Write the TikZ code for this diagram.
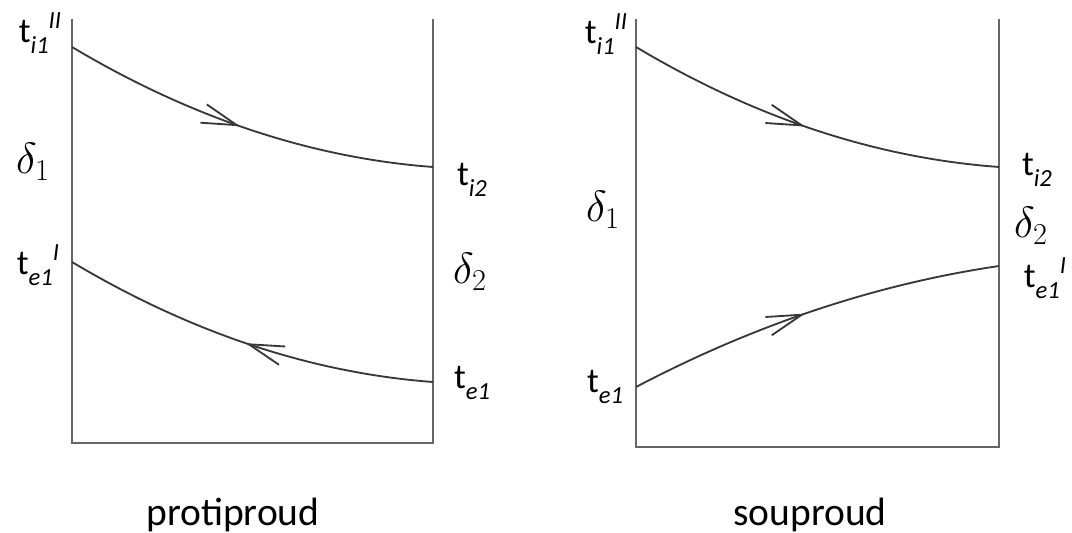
\documentclass[tikz,border=0pt]{standalone}
\usepackage{fontspec}
\setmainfont{Carlito}
\usetikzlibrary{arrows.meta,decorations.markings}

% temperature label: t with italic index and optional mark
\newcommand{\tlab}[2]{t\raisebox{-0.3em}{\fontsize{14}{14}\selectfont\itshape #1}\raisebox{0.42em}{\fontsize{14}{14}\selectfont\itshape #2}}

\begin{document}
\begin{tikzpicture}[
  x=0.02cm, y=-0.02cm,
  wall/.style={draw=black!60, line width=1.3pt},
  flow/.style={draw=black!78, line width=1.05pt},
  midarrow/.style={postaction={decorate}, decoration={markings,
    mark=at position #1 with {\arrow{Straight Barb[length=20pt,width=11pt,line width=1.05pt]}}}},
  tnode/.style={font=\fontsize{20}{24}\selectfont, inner sep=0pt},
  dnode/.style={font=\fontsize{25}{28}\selectfont, inner sep=0pt},
  caption/.style={font=\fontsize{22.5}{26}\selectfont, inner sep=0pt}
]
  \useasboundingbox (0,0) rectangle (1072,533);

  % protiproud
  \coordinate (L-tl) at (72,19);
  \coordinate (L-bl) at (72,443);
  \coordinate (L-br) at (433,443);
  \coordinate (L-tr) at (433,19);
  \coordinate (L-i1) at (72,47);
  \coordinate (L-i2) at (433,167);
  \coordinate (L-e1a) at (72,262);
  \coordinate (L-e1) at (433,382);

  \draw[wall] (L-tl) -- (L-bl) -- (L-br) -- (L-tr);
  \draw[flow, midarrow=0.485] (L-i1) .. controls (191,118) and (312,158) .. (L-i2);
  \draw[flow, midarrow=0.5] (L-e1) .. controls (312,373) and (191,333) .. (L-e1a);

  \node[tnode] (lti1) at (40,33) {\tlab{i1}{II}};
  \node[dnode] (ld1) at (33,162) {$\delta_1$};
  \node[tnode] (lte1a) at (38,265) {\tlab{e1}{I}};
  \node[tnode] (lti2) at (472,180) {\tlab{i2}{}};
  \node[dnode] (ld2) at (470,272) {$\delta_2$};
  \node[tnode] (lte1) at (472,383) {\tlab{e1}{}};
  \node[caption] (prot) at (233,515) {protiproud};

  % souproud
  \coordinate (R-tl) at (636,19);
  \coordinate (R-bl) at (636,447);
  \coordinate (R-br) at (999,447);
  \coordinate (R-tr) at (999,19);
  \coordinate (R-i1) at (636,47);
  \coordinate (R-i2) at (999,167);
  \coordinate (R-e1) at (636,387);
  \coordinate (R-e1a) at (999,266);

  \draw[wall] (R-tl) -- (R-bl) -- (R-br) -- (R-tr);
  \draw[flow, midarrow=0.485] (R-i1) .. controls (755,118) and (876,158) .. (R-i2);
  \draw[flow, midarrow=0.48] (R-e1) .. controls (756,324) and (877,284) .. (R-e1a);

  \node[tnode] (rti1) at (606,34) {\tlab{i1}{II}};
  \node[dnode] (rd1) at (603,210) {$\delta_1$};
  \node[tnode] (rte1) at (605,387) {\tlab{e1}{}};
  \node[tnode] (rti2) at (1037,170) {\tlab{i2}{}};
  \node[dnode] (rd2) at (1031,226) {$\delta_2$};
  \node[tnode] (rte1a) at (1045,278) {\tlab{e1}{I}};
  \node[caption] (soup) at (810,515) {souproud};
\end{tikzpicture}
\end{document}
